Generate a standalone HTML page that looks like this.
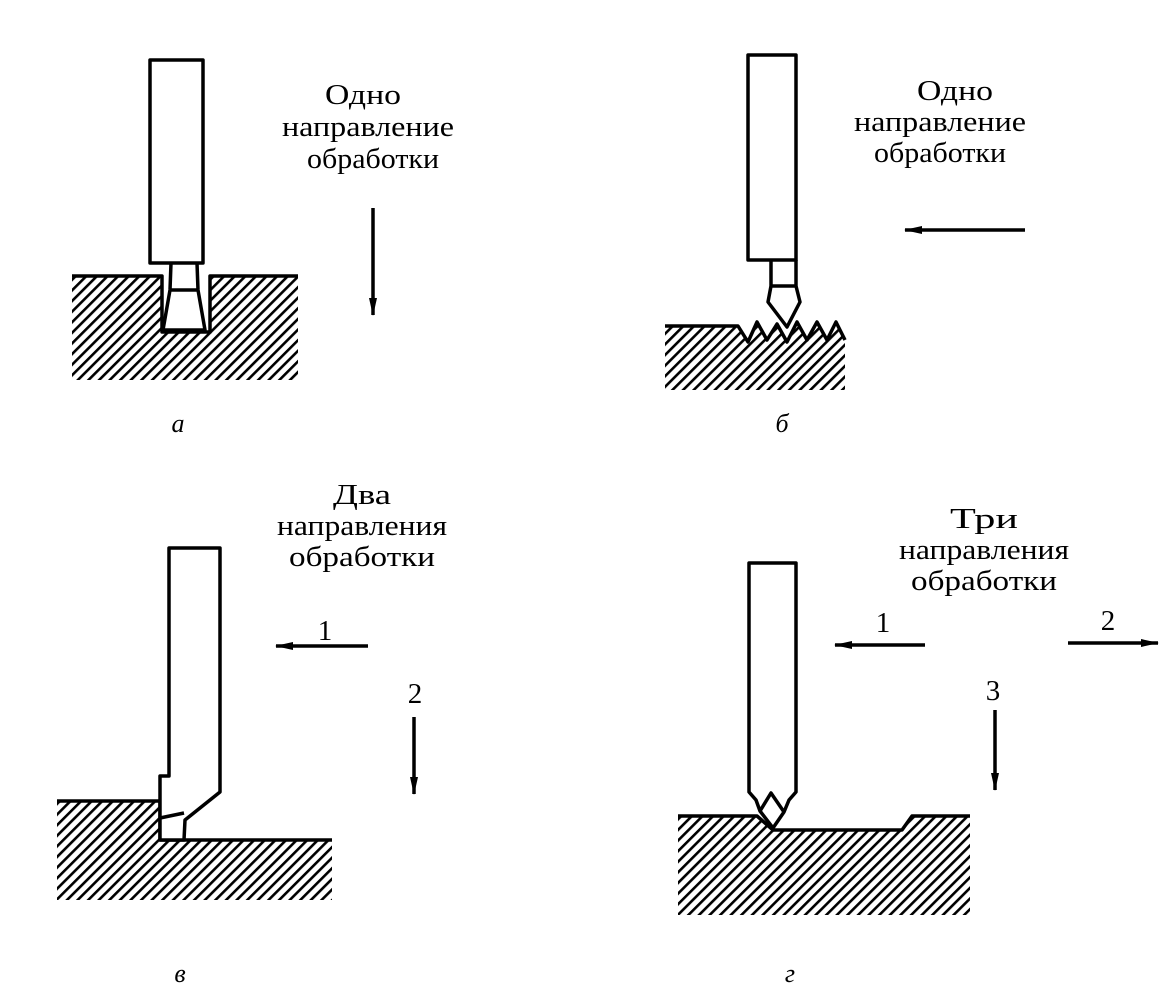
<!DOCTYPE html>
<html><head><meta charset="utf-8"><style>body{margin:0;background:#fff}svg{display:block}</style></head><body>
<svg width="1176" height="1004" viewBox="0 0 1176 1004" xmlns="http://www.w3.org/2000/svg">
<defs>
<pattern id="h" patternUnits="userSpaceOnUse" width="7.5" height="7.5" patternTransform="rotate(45)">
<rect x="0" y="0" width="2.6" height="7.5" fill="#000"/>
</pattern>
<marker id="ar" markerWidth="18" markerHeight="10" refX="17" refY="5" orient="auto" markerUnits="userSpaceOnUse"><path d="M0,1 L18,5 L0,9 Z" fill="#000"/></marker>
</defs>
<g font-family="'Liberation Serif', serif" font-size="29" fill="#000" text-anchor="middle">
<text x="363" y="104" textLength="76" lengthAdjust="spacingAndGlyphs">Одно</text>
<text x="368" y="136" textLength="172" lengthAdjust="spacingAndGlyphs">направление</text>
<text x="373" y="168" textLength="132" lengthAdjust="spacingAndGlyphs">обработки</text>
<text x="955" y="100" textLength="76" lengthAdjust="spacingAndGlyphs">Одно</text>
<text x="940" y="131" textLength="172" lengthAdjust="spacingAndGlyphs">направление</text>
<text x="940" y="162" textLength="132" lengthAdjust="spacingAndGlyphs">обработки</text>
<text x="362" y="504" textLength="58" lengthAdjust="spacingAndGlyphs">Два</text>
<text x="362" y="535" textLength="170" lengthAdjust="spacingAndGlyphs">направления</text>
<text x="362" y="566" textLength="146" lengthAdjust="spacingAndGlyphs">обработки</text>
<text x="984" y="528" textLength="68" lengthAdjust="spacingAndGlyphs">Три</text>
<text x="984" y="559" textLength="170" lengthAdjust="spacingAndGlyphs">направления</text>
<text x="984" y="590" textLength="146" lengthAdjust="spacingAndGlyphs">обработки</text>
<text x="325" y="640">1</text>
<text x="415" y="703">2</text>
<text x="883" y="632">1</text>
<text x="1108" y="630">2</text>
<text x="993" y="700">3</text>
<g font-style="italic" font-size="26">
<text x="178" y="432">а</text>
<text x="782" y="432">б</text>
<text x="180" y="982">в</text>
<text x="790" y="982">г</text>
</g>
</g>
<g stroke="#000" stroke-width="3.5" fill="none" stroke-linejoin="round">
<line x1="373" y1="208" x2="373" y2="315" marker-end="url(#ar)"/>
<line x1="1025" y1="230" x2="905" y2="230" marker-end="url(#ar)"/>
<line x1="368" y1="646" x2="276" y2="646" marker-end="url(#ar)"/>
<line x1="414" y1="717" x2="414" y2="794" marker-end="url(#ar)"/>
<line x1="925" y1="645" x2="835" y2="645" marker-end="url(#ar)"/>
<line x1="1068" y1="643" x2="1158" y2="643" marker-end="url(#ar)"/>
<line x1="995" y1="710" x2="995" y2="790" marker-end="url(#ar)"/>

<path d="M72,276 H162 V332 H210 V276 H298 V380 H72 Z" fill="url(#h)" stroke="none"/>
<path d="M72,276 H162 V332 H210 V276 H298"/>
<rect x="150" y="60" width="53" height="203" fill="#fff"/>
<path d="M171,263 L170,290 L163,330 H205 L198,290 L197,263 M170,290 H198"/>

<path d="M665,326 H738 L748,342 L757,322 L767,340 L777,324 L787,342 L797,322 L807,340 L817,322 L827,340 L836,322 L845,340 V390 H665 Z" fill="url(#h)" stroke="none"/>
<path d="M665,326 H738 L748,342 L757,322 L767,340 L777,324 L787,342 L797,322 L807,340 L817,322 L827,340 L836,322 L845,340"/>
<rect x="748" y="55" width="48" height="205" fill="#fff"/>
<path d="M771,260 V286 L768,302 L787,327 L800,302 L796,286 V260 M771,286 H796"/>

<path d="M57,801 H160 V840 H332 V900 H57 Z" fill="url(#h)" stroke="none"/>
<path d="M57,801 H160 V840 H332"/>
<path d="M169,548 H220 V792 L185,820 L184,840 H160 V776 H169 Z" fill="#fff"/>
<path d="M160,818 L184,813"/>

<path d="M678,816 H757 L773,830 H902 L912,816 H970 V915 H678 Z" fill="url(#h)" stroke="none"/>
<path d="M678,816 H757 L773,830 H902 L912,816 H970"/>
<path d="M749,563 H796 V792 L789,800 L784,812 L773,828 L760,811 L756,800 L749,792 Z" fill="#fff"/>
<path d="M760,811 L771,793 L784,812"/>
</g>
</svg>
</body></html>
